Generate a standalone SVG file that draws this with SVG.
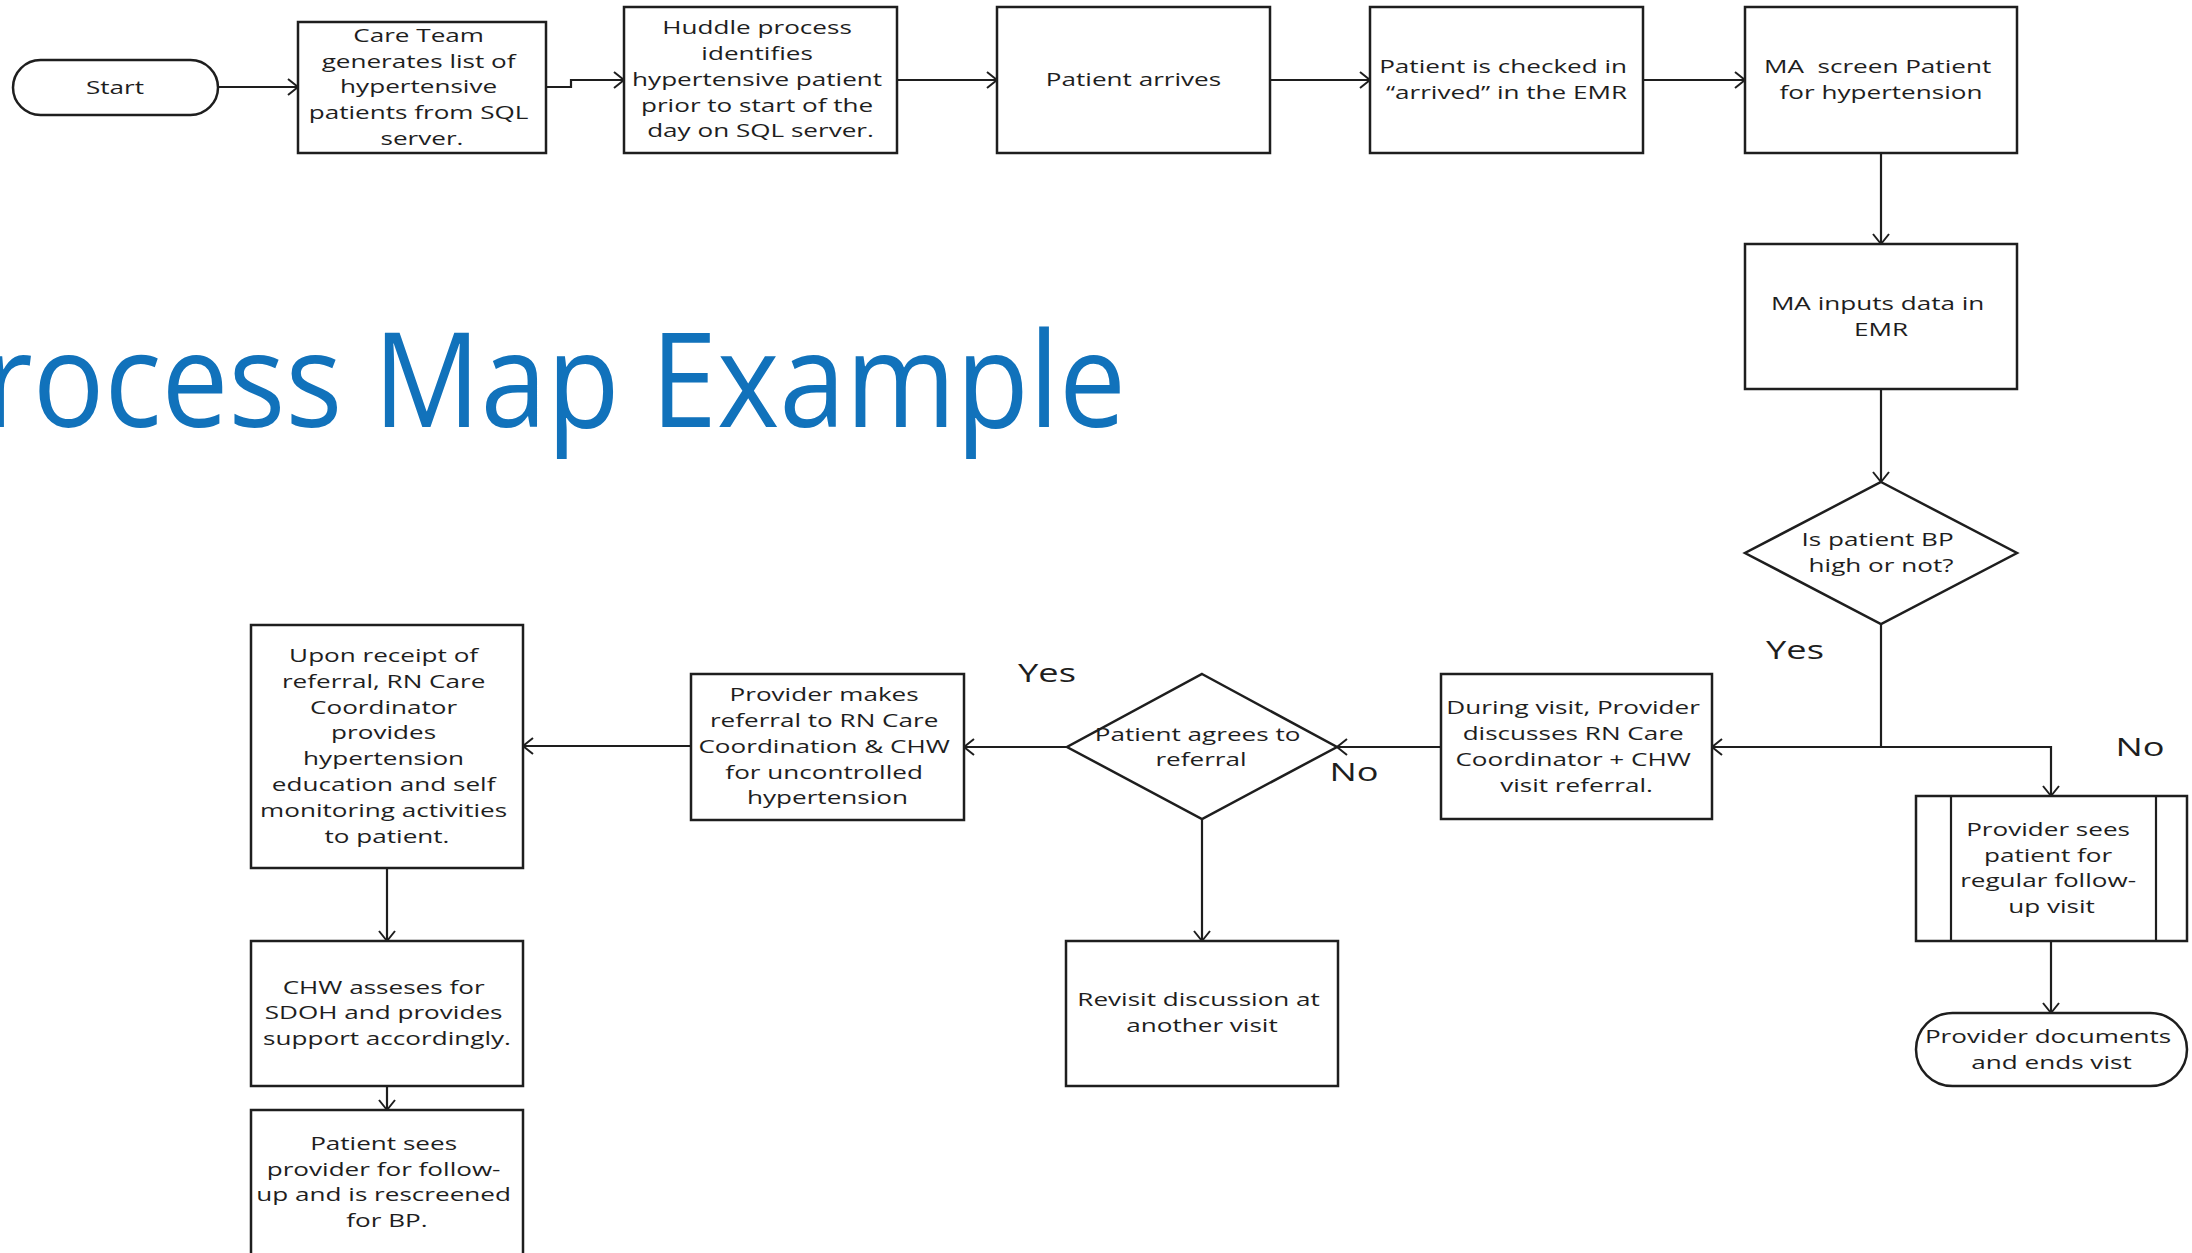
<svg xmlns="http://www.w3.org/2000/svg" width="2192" height="1253" viewBox="0 0 2192 1253">
<style>
.bg{fill:#ffffff}
.box{fill:#ffffff;stroke:#1e1e1e;stroke-width:2.5}
.ln{fill:none;stroke:#1e1e1e;stroke-width:2.2}
.edge{fill:none;stroke:#1e1e1e;stroke-width:2.2;marker-end:url(#ah)}
.t{font-family:"Open Sans","Liberation Sans",sans-serif;font-size:18px;fill:#1e1e1e;text-anchor:middle}
.lbl{font-family:"Open Sans","Liberation Sans",sans-serif;font-size:25px;fill:#1e1e1e;text-anchor:middle}
.title{font-family:"Open Sans","Liberation Sans",sans-serif;font-size:132px;fill:#1172BB}
</style>
<defs>
<marker id="ah" viewBox="-13 -11 16 22" markerWidth="16" markerHeight="22" refX="0" refY="0" orient="auto" markerUnits="userSpaceOnUse">
<path d="M-10,-8 L0,0 L-10,8" fill="none" stroke="#1e1e1e" stroke-width="2"/>
</marker>
</defs>
<rect class="bg" x="0" y="0" width="2192" height="1253"/>

<text id="title" class="title" x="-16" y="427" textLength="1142" lengthAdjust="spacingAndGlyphs">rocess Map Example</text>

<g id="connectors">
<path class="edge" d="M218,87 H298"/>
<path class="edge" d="M546,87 H571 V80 H624"/>
<path class="edge" d="M897,80 H997"/>
<path class="edge" d="M1270,80 H1370"/>
<path class="edge" d="M1643,80 H1745"/>
<path class="edge" d="M1881,153 V244"/>
<path class="edge" d="M1881,389 V482"/>
<path class="edge" d="M1881,624 V747 H1712"/>
<path class="edge" d="M1881,747 H2051 V796"/>
<path class="edge" d="M1441,747 H1337"/>
<path class="edge" d="M1067,747 H964"/>
<path class="edge" d="M691,746 H523"/>
<path class="edge" d="M387,868 V941"/>
<path class="edge" d="M387,1086 V1110"/>
<path class="edge" d="M1202,818 V941"/>
<path class="edge" d="M2051,941 V1013"/>
</g>

<g id="edge-labels">
<text class="lbl" transform="translate(1795,0) scale(1.45,1)" x="0" y="659">Yes</text>
<text class="lbl" transform="translate(2140,0) scale(1.45,1)" x="0" y="756">No</text>
<text class="lbl" transform="translate(1047,0) scale(1.45,1)" x="0" y="682">Yes</text>
<text class="lbl" transform="translate(1354,0) scale(1.45,1)" x="0" y="781">No</text>
</g>

<g id="start">
<rect class="box" x="13" y="60" width="205" height="55" rx="27.5" ry="27.5"/>
<text class="t" transform="translate(115,0) scale(1.45,1)"><tspan x="0" y="94">Start</tspan></text>
</g>

<g id="care-team">
<rect class="box" x="298" y="22" width="248" height="131"/>
<text class="t" transform="translate(422,0) scale(1.45,1)">
<tspan x="0" y="42">Care Team</tspan>
<tspan x="0" y="68">generates list of</tspan>
<tspan x="0" y="93.5">hypertensive</tspan>
<tspan x="0" y="119">patients from SQL</tspan>
<tspan x="0" y="145">server.</tspan>
</text>
</g>

<g id="huddle">
<rect class="box" x="624" y="7" width="273" height="146"/>
<text class="t" transform="translate(760.5,0) scale(1.45,1)">
<tspan x="0" y="34.5">Huddle process</tspan>
<tspan x="0" y="60">identifies</tspan>
<tspan x="0" y="86">hypertensive patient</tspan>
<tspan x="0" y="112">prior to start of the</tspan>
<tspan x="0" y="137.5">day on SQL server.</tspan>
</text>
</g>

<g id="patient-arrives">
<rect class="box" x="997" y="7" width="273" height="146"/>
<text class="t" transform="translate(1133.5,0) scale(1.45,1)"><tspan x="0" y="86">Patient arrives</tspan></text>
</g>

<g id="checked-in">
<rect class="box" x="1370" y="7" width="273" height="146"/>
<text class="t" transform="translate(1506.5,0) scale(1.45,1)">
<tspan x="0" y="73">Patient is checked in</tspan>
<tspan x="0" y="99">“arrived” in the EMR</tspan>
</text>
</g>

<g id="ma-screen">
<rect class="box" x="1745" y="7" width="272" height="146"/>
<text class="t" transform="translate(1881,0) scale(1.45,1)">
<tspan x="0" y="73">MA&#160; screen Patient</tspan>
<tspan x="0" y="99">for hypertension</tspan>
</text>
</g>

<g id="ma-inputs">
<rect class="box" x="1745" y="244" width="272" height="145"/>
<text class="t" transform="translate(1881,0) scale(1.45,1)">
<tspan x="0" y="310">MA inputs data in</tspan>
<tspan x="0" y="336">EMR</tspan>
</text>
</g>

<g id="bp-decision">
<polygon class="box" points="1881,482 2017,553 1881,624 1745,553"/>
<text class="t" transform="translate(1881,0) scale(1.45,1)">
<tspan x="0" y="546">Is patient BP</tspan>
<tspan x="0" y="572">high or not?</tspan>
</text>
</g>

<g id="during-visit">
<rect class="box" x="1441" y="674" width="271" height="145"/>
<text class="t" transform="translate(1576.5,0) scale(1.45,1)">
<tspan x="0" y="714.5">During visit, Provider</tspan>
<tspan x="0" y="740">discusses RN Care</tspan>
<tspan x="0" y="766">Coordinator + CHW</tspan>
<tspan x="0" y="792">visit referral.</tspan>
</text>
</g>

<g id="provider-sees">
<rect class="box" x="1916" y="796" width="271" height="145"/>
<line class="ln" x1="1951" y1="796" x2="1951" y2="941"/>
<line class="ln" x1="2156" y1="796" x2="2156" y2="941"/>
<text class="t" transform="translate(2051.5,0) scale(1.45,1)">
<tspan x="0" y="836">Provider sees</tspan>
<tspan x="0" y="862">patient for</tspan>
<tspan x="0" y="887.5">regular follow-</tspan>
<tspan x="0" y="913">up visit</tspan>
</text>
</g>

<g id="provider-documents">
<rect class="box" x="1916" y="1013" width="271" height="73" rx="36.5" ry="36.5"/>
<text class="t" transform="translate(2051.5,0) scale(1.45,1)">
<tspan x="0" y="1043">Provider documents</tspan>
<tspan x="0" y="1069">and ends vist</tspan>
</text>
</g>

<g id="agrees-decision">
<polygon class="box" points="1202,674 1337,747 1202,819 1067,747"/>
<text class="t" transform="translate(1201,0) scale(1.45,1)">
<tspan x="0" y="741">Patient agrees to</tspan>
<tspan x="0" y="766">referral</tspan>
</text>
</g>

<g id="provider-referral">
<rect class="box" x="691" y="674" width="273" height="146"/>
<text class="t" transform="translate(827.5,0) scale(1.45,1)">
<tspan x="0" y="701.5">Provider makes</tspan>
<tspan x="0" y="727">referral to RN Care</tspan>
<tspan x="0" y="753">Coordination &amp; CHW</tspan>
<tspan x="0" y="779">for uncontrolled</tspan>
<tspan x="0" y="804.5">hypertension</tspan>
</text>
</g>

<g id="rn-coordinator">
<rect class="box" x="251" y="625" width="272" height="243"/>
<text class="t" transform="translate(387,0) scale(1.45,1)">
<tspan x="0" y="662">Upon receipt of</tspan>
<tspan x="0" y="688">referral, RN Care</tspan>
<tspan x="0" y="714">Coordinator</tspan>
<tspan x="0" y="739.5">provides</tspan>
<tspan x="0" y="765.5">hypertension</tspan>
<tspan x="0" y="791">education and self</tspan>
<tspan x="0" y="817">monitoring activities</tspan>
<tspan x="0" y="843">to patient.</tspan>
</text>
</g>

<g id="chw">
<rect class="box" x="251" y="941" width="272" height="145"/>
<text class="t" transform="translate(387,0) scale(1.45,1)">
<tspan x="0" y="994">CHW asseses for</tspan>
<tspan x="0" y="1019.5">SDOH and provides</tspan>
<tspan x="0" y="1045">support accordingly.</tspan>
</text>
</g>

<g id="patient-followup">
<rect class="box" x="251" y="1110" width="272" height="146"/>
<text class="t" transform="translate(387,0) scale(1.45,1)">
<tspan x="0" y="1150">Patient sees</tspan>
<tspan x="0" y="1176">provider for follow-</tspan>
<tspan x="0" y="1201.5">up and is rescreened</tspan>
<tspan x="0" y="1227">for BP.</tspan>
</text>
</g>

<g id="revisit">
<rect class="box" x="1066" y="941" width="272" height="145"/>
<text class="t" transform="translate(1202,0) scale(1.45,1)">
<tspan x="0" y="1006">Revisit discussion at</tspan>
<tspan x="0" y="1032">another visit</tspan>
</text>
</g>
</svg>
